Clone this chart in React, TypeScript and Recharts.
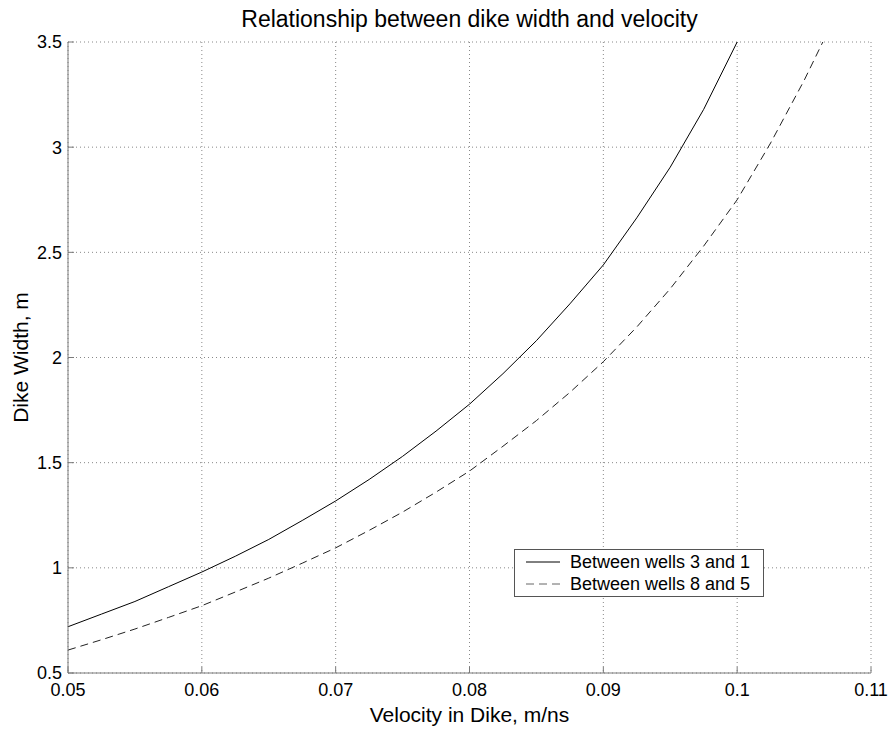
import React from "react";
import {
  CartesianGrid,
  Label,
  Legend,
  Line,
  LineChart,
  XAxis,
  YAxis,
} from "recharts";

// velocity (m/ns) vs dike width (m)
const velocity31 = [
  0.05, 0.0525, 0.055, 0.0575, 0.06, 0.0625, 0.065, 0.0675, 0.07, 0.0725, 0.075,
  0.0775, 0.08, 0.0825, 0.085, 0.0875, 0.09, 0.0925, 0.095, 0.0975, 0.1,
];
const width31 = [
  0.72, 0.78, 0.84, 0.91, 0.98, 1.055, 1.135, 1.225, 1.318, 1.42, 1.53, 1.65,
  1.778, 1.923, 2.08, 2.255, 2.44, 2.664, 2.905, 3.18, 3.5,
];
const velocity85 = [
  0.05, 0.0525, 0.055, 0.0575, 0.06, 0.0625, 0.065, 0.0675, 0.07, 0.0725, 0.075,
  0.0775, 0.08, 0.0825, 0.085, 0.0875, 0.09, 0.0925, 0.095, 0.0975, 0.1, 0.1025,
  0.105, 0.1064,
];
const width85 = [
  0.609, 0.658, 0.709, 0.764, 0.82, 0.885, 0.951, 1.022, 1.095, 1.178, 1.265,
  1.36, 1.46, 1.578, 1.7, 1.834, 1.98, 2.145, 2.327, 2.53, 2.75, 3.02, 3.317, 3.5,
];

const xTicks = [0.05, 0.06, 0.07, 0.08, 0.09, 0.1, 0.11];
const yTicks = [0.5, 1, 1.5, 2, 2.5, 3, 3.5];

const series31 = velocity31.map((v, i) => ({ v, w: width31[i] }));
const series85 = velocity85.map((v, i) => ({ v, w: width85[i] }));

const FONT = "'Liberation Sans', Arial, Helvetica, sans-serif";
const AXIS = "#7a7a7a";
const TOP = 42;

function Title({ viewBox }: any) {
  const cx = viewBox.x + viewBox.width / 2;
  return (
    <text x={cx} y={TOP - 15} textAnchor="middle" fontSize={23} fill="#000" fontFamily={FONT}>
      Relationship between dike width and velocity
    </text>
  );
}

function XLabel({ viewBox }: any) {
  const cx = viewBox.x + viewBox.width / 2;
  return (
    <text x={cx} y={722} textAnchor="middle" fontSize={21} fill="#000" fontFamily={FONT}>
      Velocity in Dike, m/ns
    </text>
  );
}

function YLabel({ viewBox }: any) {
  const cx = 28;
  const cy = viewBox.y + viewBox.height / 2;
  return (
    <text
      x={cx}
      y={cy}
      transform={`rotate(-90 ${cx} ${cy})`}
      textAnchor="middle"
      fontSize={21}
      fill="#000"
      fontFamily={FONT}
    >
      Dike Width, m
    </text>
  );
}

function LegendBox({ payload }: any) {
  const items = payload || [];
  return (
    <div
      style={{
        border: "1px solid #555",
        background: "#fff",
        padding: "1px 13px 1px 11px",
        fontFamily: FONT,
        fontSize: 18,
        lineHeight: "22px",
      }}
    >
      {items.map((it: any, i: number) => (
        <div key={i} style={{ display: "flex", alignItems: "center" }}>
          <svg width={34} height={22} style={{ marginRight: 10 }}>
            <line
              x1={0}
              x2={34}
              y1={11}
              y2={11}
              stroke={it.payload?.strokeDasharray ? "#666" : "#000"}
              strokeDasharray={it.payload?.strokeDasharray}
            />
          </svg>
          <span>{it.value}</span>
        </div>
      ))}
    </div>
  );
}

export default function App() {
  return (
    <div style={{ width: 890, height: 729, background: "#fff" }}>
      <style>{`body{margin:0;background:#fff}`}</style>
      <LineChart width={890} height={729} margin={{ top: TOP, right: 19, bottom: 26, left: 8 }}>
        <CartesianGrid stroke="#888" strokeDasharray="1 3" />
        <XAxis
          dataKey="v"
          type="number"
          domain={[0.05, 0.11]}
          ticks={xTicks}
          interval={0}
          allowDataOverflow
          height={30}
          stroke={AXIS}
          tickSize={-6}
          tickMargin={16}
          tick={{ fill: "#000", fontSize: 18, fontFamily: FONT }}
        >
          <Label content={<XLabel />} />
          <Label content={<Title />} />
        </XAxis>
        <XAxis
          xAxisId="top"
          orientation="top"
          type="number"
          domain={[0.05, 0.11]}
          ticks={xTicks}
          interval={0}
          allowDataOverflow
          height={0}
          stroke={AXIS}
          tickSize={-6}
          tick={false}
        />
        <YAxis
          type="number"
          domain={[0.5, 3.5]}
          ticks={yTicks}
          interval={0}
          allowDataOverflow
          width={60}
          stroke={AXIS}
          tickSize={-6}
          tickMargin={12}
          tick={{ fill: "#000", fontSize: 18, fontFamily: FONT }}
        >
          <Label content={<YLabel />} />
        </YAxis>
        <YAxis
          yAxisId="right"
          orientation="right"
          type="number"
          domain={[0.5, 3.5]}
          ticks={yTicks}
          interval={0}
          allowDataOverflow
          width={0}
          stroke={AXIS}
          tickSize={-6}
          tick={false}
        />
        <Legend
          layout="horizontal"
          verticalAlign="middle"
          align="center"
          content={<LegendBox />}
          wrapperStyle={{ position: "absolute", left: 514, top: 549, width: "auto", bottom: "auto" }}
        />
        <Line
          data={series31}
          dataKey="w"
          name="Between wells 3 and 1"
          stroke="#000"
          strokeWidth={1}
          dot={false}
          activeDot={false}
          isAnimationActive={false}
        />
        <Line
          data={series85}
          dataKey="w"
          name="Between wells 8 and 5"
          stroke="#222"
          strokeWidth={1}
          strokeDasharray="8 5"
          dot={false}
          activeDot={false}
          isAnimationActive={false}
        />
      </LineChart>
    </div>
  );
}
